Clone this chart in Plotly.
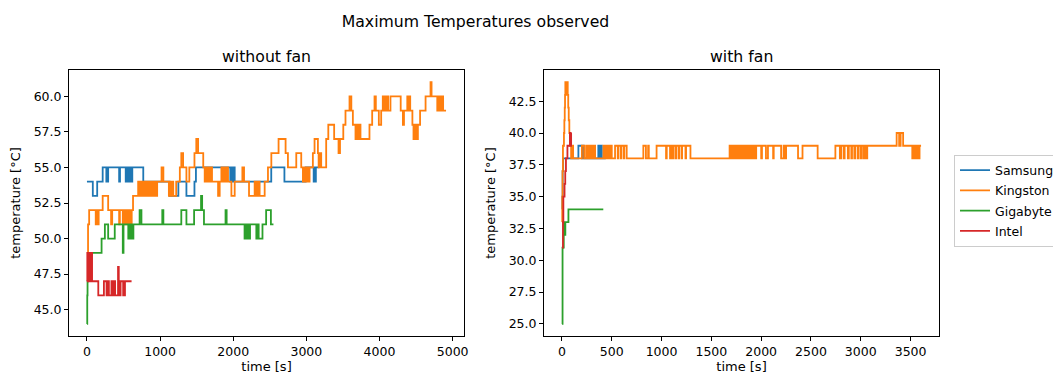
import plotly.graph_objects as go

# ---------------- data: (time [s], max temperature [°C]) ----------------
names = ["Samsung", "Kingston", "Gigabyte", "Intel"]
colors = ["#1f77b4", "#ff7f0e", "#2ca02c", "#d62728"]

# without fan
samsung_nofan = [(0, 54), (80, 53), (140, 54), (215, 55), (265, 54), (290, 55), (440, 54), (452, 55),
                 (530, 54), (542, 55), (565, 54), (572, 55), (580, 54), (588, 55), (596, 54), (604, 55),
                 (612, 54), (620, 55), (770, 54), (1130, 53), (1250, 54), (1360, 53), (1470, 54),
                 (1490, 55), (1960, 54), (1970, 55), (1980, 54), (1990, 55), (2000, 54), (2010, 55),
                 (2020, 54), (2520, 55), (2700, 54), (2990, 55), (3100, 54), (3110, 55), (3120, 54),
                 (3130, 55), (3180, 55)]

kingston_nofan = [(0, 49), (15, 51), (30, 52), (120, 51), (128, 52), (136, 51), (144, 52), (152, 51),
                  (160, 52), (215, 53), (290, 52), (330, 51), (345, 52), (440, 51), (450, 52), (490, 51),
                  (500, 52), (510, 51), (520, 52), (530, 51), (540, 52), (555, 51), (565, 52), (575, 51),
                  (585, 52), (600, 51), (612, 52), (630, 53), (700, 54), (720, 53), (735, 54), (745, 53),
                  (760, 54), (770, 53), (780, 54), (790, 53), (800, 54), (810, 53), (820, 54), (830, 53),
                  (840, 54), (850, 53), (860, 54), (870, 53), (880, 54), (890, 53), (900, 54), (910, 53),
                  (920, 54), (930, 53), (940, 54), (950, 53), (960, 54), (1020, 55), (1045, 54),
                  (1120, 53), (1130, 54), (1140, 53), (1150, 54), (1160, 53), (1170, 54), (1180, 53),
                  (1220, 54), (1270, 55), (1290, 56), (1315, 55), (1360, 54), (1400, 55), (1470, 56),
                  (1495, 57), (1520, 56), (1590, 55), (1610, 54), (1620, 55), (1630, 54), (1640, 55),
                  (1650, 54), (1660, 55), (1670, 54), (1680, 55), (1690, 54), (1700, 55), (1710, 54),
                  (1793, 53), (1815, 54), (1838, 55), (1848, 54), (1858, 55), (1868, 54), (1878, 55),
                  (1888, 54), (1898, 55), (1908, 54), (1918, 55), (1929, 54), (1975, 53), (2020, 54),
                  (2125, 55), (2148, 54), (2216, 53), (2293, 54), (2303, 53), (2313, 54), (2323, 53),
                  (2333, 54), (2343, 53), (2353, 54), (2361, 53), (2430, 54), (2475, 55), (2521, 56),
                  (2620, 57), (2716, 56), (2748, 55), (2862, 56), (2930, 55), (2953, 54), (2963, 55),
                  (2973, 54), (2983, 55), (2993, 54), (3003, 55), (3013, 54), (3023, 55), (3033, 54),
                  (3044, 55), (3089, 56), (3112, 57), (3158, 56), (3168, 55), (3178, 56), (3188, 55),
                  (3198, 56), (3203, 55), (3271, 57), (3300, 58), (3380, 57), (3440, 56), (3460, 57),
                  (3505, 58), (3535, 59), (3590, 60), (3615, 59), (3636, 58), (3672, 57), (3690, 58),
                  (3700, 57), (3710, 58), (3720, 57), (3730, 58), (3740, 57), (3863, 58), (3900, 59),
                  (3932, 60), (3950, 59), (3991, 58), (4023, 59), (4045, 60), (4060, 59), (4070, 60),
                  (4085, 59), (4095, 60), (4118, 59), (4150, 60), (4290, 59), (4320, 58), (4335, 59),
                  (4380, 60), (4390, 59), (4398, 60), (4405, 59), (4412, 60), (4420, 59), (4450, 58),
                  (4465, 57), (4475, 58), (4482, 57), (4490, 58), (4497, 57), (4505, 58), (4512, 57),
                  (4525, 58), (4555, 59), (4630, 60), (4698, 61), (4712, 60), (4790, 59), (4800, 60),
                  (4810, 59), (4820, 60), (4830, 59), (4840, 60), (4850, 59), (4860, 60), (4870, 59),
                  (4910, 59)]

gigabyte_nofan = [(0, 44), (4, 46), (8, 47), (15, 49), (200, 50), (245, 51), (290, 50), (380, 51),
                  (490, 49), (500, 51), (565, 50), (575, 51), (585, 50), (595, 51), (605, 50), (615, 51),
                  (625, 50), (635, 51), (720, 52), (745, 51), (1030, 52), (1045, 51), (1290, 52),
                  (1360, 51), (1465, 52), (1560, 53), (1575, 52), (1600, 51), (1895, 52), (1910, 51),
                  (2155, 50), (2165, 51), (2175, 50), (2185, 51), (2195, 50), (2210, 51), (2220, 50),
                  (2230, 51), (2316, 50), (2340, 51), (2348, 50), (2400, 51), (2450, 52), (2515, 51),
                  (2550, 51)]

intel_nofan = [(0, 47), (5, 49), (12, 47), (18, 49), (25, 47), (32, 49), (40, 47), (48, 49), (55, 47),
               (62, 49), (70, 47), (155, 46), (232, 47), (268, 46), (290, 47), (300, 46), (335, 47),
               (342, 46), (355, 47), (362, 46), (378, 47), (385, 46), (425, 48), (435, 47), (445, 46),
               (460, 47), (495, 46), (520, 47), (610, 47)]

# with fan
samsung_fan = [(0, 34), (4, 35), (7, 37), (12, 38), (165, 39), (200, 38), (210, 39), (218, 38),
               (365, 39), (372, 38), (378, 39), (385, 38), (392, 39), (400, 38), (440, 38)]

kingston_fan = [(0, 33), (3, 35), (6, 37), (10, 39), (20, 40), (24, 41), (28, 42), (31, 43), (34, 44),
                (42, 43), (45, 44), (50, 43), (53, 44), (58, 43), (63, 42), (68, 41), (74, 40), (82, 39),
                (92, 38), (105, 39), (112, 38), (200, 39), (223, 38), (243, 39), (255, 38), (262, 39),
                (275, 38), (282, 39), (295, 38), (302, 39), (315, 38), (322, 39), (333, 38), (417, 39),
                (428, 38), (436, 39), (448, 38), (456, 39), (468, 38), (476, 39), (488, 38), (493, 39),
                (500, 38), (533, 39), (560, 38), (566, 39), (590, 38), (596, 39), (620, 38), (626, 39),
                (650, 38), (817, 39), (843, 38), (865, 39), (872, 38), (950, 39), (1045, 38), (1052, 39),
                (1085, 38), (1092, 39), (1110, 38), (1118, 39), (1140, 38), (1146, 39), (1170, 38),
                (1176, 39), (1200, 38), (1206, 39), (1240, 38), (1246, 39), (1290, 38), (1683, 39),
                (1695, 38), (1705, 39), (1718, 38), (1728, 39), (1740, 38), (1750, 39), (1762, 38),
                (1772, 39), (1785, 38), (1795, 39), (1808, 38), (1818, 39), (1830, 38), (1840, 39),
                (1852, 38), (1862, 39), (1875, 38), (1885, 39), (1898, 38), (1908, 39), (1920, 38),
                (1930, 39), (1945, 38), (1950, 39), (2000, 38), (2008, 39), (2048, 38), (2068, 39),
                (2120, 38), (2126, 39), (2200, 38), (2225, 39), (2232, 38), (2250, 39), (2370, 38),
                (2415, 39), (2567, 38), (2745, 39), (2790, 38), (2805, 39), (2830, 38), (2838, 39),
                (2870, 38), (2880, 39), (2905, 38), (2912, 39), (2935, 38), (2945, 39), (2970, 38),
                (2978, 39), (3000, 38), (3010, 39), (3030, 38), (3040, 39), (3050, 38), (3065, 39),
                (3360, 40), (3385, 39), (3400, 40), (3425, 39), (3517, 38), (3525, 39), (3532, 38),
                (3545, 39), (3552, 38), (3565, 39), (3572, 38), (3590, 39), (3605, 39)]

gigabyte_fan = [(0, 25), (6, 31), (18, 33), (26, 32), (34, 33), (65, 34), (415, 34)]

intel_fan = [(0, 31), (8, 31), (10, 33), (14, 35), (22, 35), (26, 36), (33, 37), (40, 38), (50, 38),
             (55, 39), (75, 39), (80, 40), (88, 39), (92, 40), (95, 40)]

nofan_series = [samsung_nofan, kingston_nofan, gigabyte_nofan, intel_nofan]
fan_series = [samsung_fan, kingston_fan, gigabyte_fan, intel_fan]

# ---------------- figure ----------------
W, H = 1053, 374
ML, MR, MT, MB = 69, 114, 70, 38
FONT = "DejaVu Sans"

fig = go.Figure()
for name, color, pairs in zip(names, colors, nofan_series):
    t, v = zip(*pairs)
    fig.add_trace(go.Scatter(x=list(t), y=list(v), mode="lines", name=name, legendgroup=name,
                             showlegend=False, line=dict(color=color, width=1.8, shape="hv"),
                             xaxis="x", yaxis="y"))
for name, color, pairs in zip(names, colors, fan_series):
    t, v = zip(*pairs)
    fig.add_trace(go.Scatter(x=list(t), y=list(v), mode="lines", name=name, legendgroup=name,
                             showlegend=True, line=dict(color=color, width=1.8, shape="hv"),
                             xaxis="x2", yaxis="y2"))

axis_common = dict(showline=True, linecolor="black", linewidth=1, mirror=True, ticks="outside",
                   ticklen=4, tickwidth=1, tickcolor="black", showgrid=False, zeroline=False,
                   tickfont=dict(size=12.5, color="black", family=FONT),
                   title_font=dict(size=13, color="black", family=FONT))

plot_w = W - ML - MR
left_dom = [0, 395 / plot_w]
right_dom = [475 / plot_w, 1]

fig.update_layout(
    width=W, height=H,
    margin=dict(l=ML, r=MR, t=MT, b=MB, autoexpand=False),
    paper_bgcolor="white", plot_bgcolor="white",
    font=dict(family=FONT, size=12.5, color="black"),
    title=dict(text="Maximum Temperatures observed", x=475.5 / W, xref="container", xanchor="center",
               y=1 - 22 / H, yref="container", yanchor="middle",
               font=dict(size=15.7, family=FONT, color="black")),
    xaxis=dict(domain=left_dom, range=[-245.5, 5155.5], tick0=0, dtick=1000, tickformat="d",
               anchor="y", title=dict(text="time [s]", standoff=10), **axis_common),
    yaxis=dict(domain=[0, 1], range=[43.15, 61.85], tick0=45, dtick=2.5, tickformat=".1f",
               anchor="x", title=dict(text="temperature [°C]", standoff=10), **axis_common),
    xaxis2=dict(domain=right_dom, range=[-180.25, 3785.25], tick0=0, dtick=500, tickformat="d",
                anchor="y2", title=dict(text="time [s]", standoff=10), **axis_common),
    yaxis2=dict(domain=[0, 1], range=[24.05, 44.95], tick0=25, dtick=2.5, tickformat=".1f",
                anchor="x2", title=dict(text="temperature [°C]", standoff=10), **axis_common),
    legend=dict(x=954 / W, xref="container", y=1 - 154.5 / H, yref="container",
                xanchor="left", yanchor="top", bordercolor="#cccccc", borderwidth=1,
                bgcolor="rgba(255,255,255,0.8)", tracegroupgap=1,
                font=dict(size=12.5, family=FONT, color="black")),
    annotations=[
        dict(text="without fan", xref="paper", yref="paper", x=sum(left_dom) / 2, y=1,
             xanchor="center", yanchor="bottom", yshift=2, showarrow=False,
             font=dict(size=15.7, family=FONT, color="black")),
        dict(text="with fan", xref="paper", yref="paper", x=sum(right_dom) / 2, y=1,
             xanchor="center", yanchor="bottom", yshift=2, showarrow=False,
             font=dict(size=15.7, family=FONT, color="black")),
    ],
)

# remove the browser's default page margin so the figure fills the window exactly
fig.write_html("out.html",
               config={"displayModeBar": False},
               post_script="document.body.style.margin='0';document.body.style.overflow='hidden';")
